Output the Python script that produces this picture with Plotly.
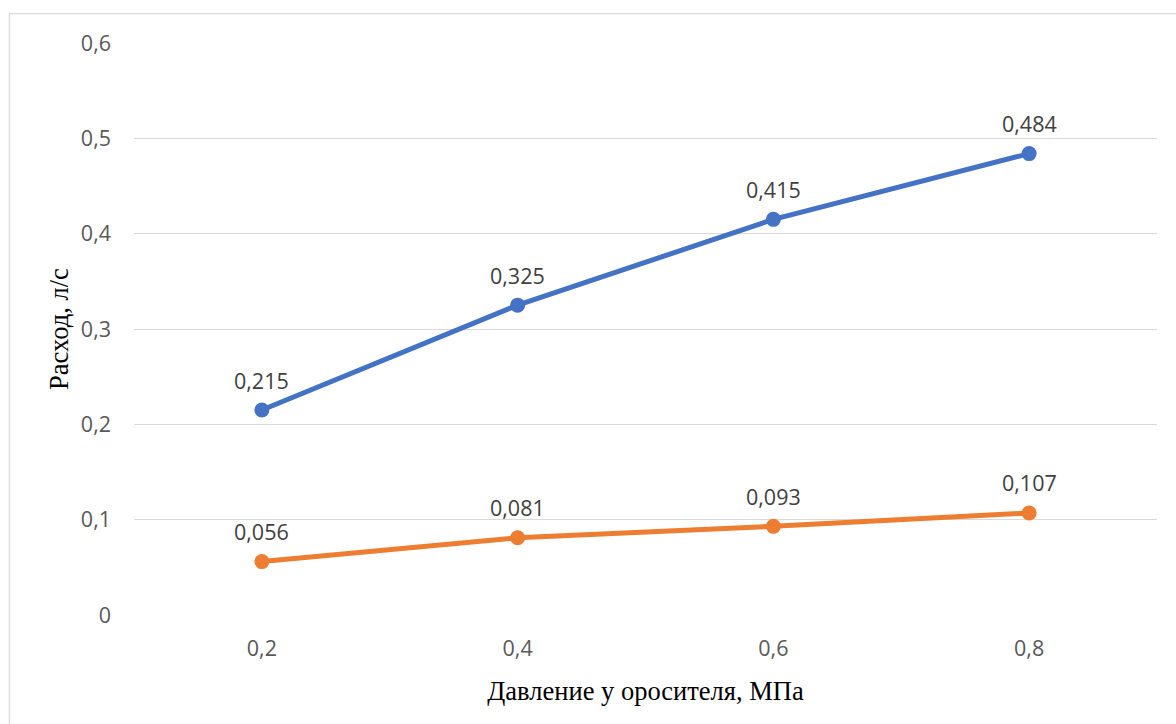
import plotly.graph_objects as go

categories = ["0,2", "0,4", "0,6", "0,8"]
series_blue = [0.215, 0.325, 0.415, 0.484]
series_orange = [0.056, 0.081, 0.093, 0.107]
y_ticks = [0, 0.1, 0.2, 0.3, 0.4, 0.5, 0.6]
y_tick_labels = ["0", "0,1", "0,2", "0,3", "0,4", "0,5", "0,6"]

def fmt(v):
    return f"{v:.3f}".replace(".", ",")

W, H = 1176, 724
L, R, T, B = 134, 19, 42.5, 108.5

fig = go.Figure()
annotations = []
for vals, col in [(series_blue, "#4472C4"), (series_orange, "#ED7D31")]:
    xs = list(range(len(categories)))
    fig.add_trace(go.Scatter(
        x=xs, y=vals,
        mode="lines+markers",
        line=dict(color=col, width=5),
        marker=dict(color=col, size=15),
        cliponaxis=False,
        showlegend=False,
        hoverinfo="skip",
    ))
    for xv, yv in zip(xs, vals):
        annotations.append(dict(
            x=xv, y=yv, xref="x", yref="y", text=fmt(yv), showarrow=False,
            yanchor="middle", xanchor="center", yshift=30,
            font=dict(family="Open Sans", size=21.5, color="#404040"),
        ))

fig.update_layout(
    width=W, height=H,
    margin=dict(l=L, r=R, t=T, b=B),
    paper_bgcolor="white", plot_bgcolor="white",
    annotations=annotations,
    xaxis=dict(
        range=[-0.5, len(categories) - 0.5],
        tickmode="array", tickvals=list(range(len(categories))), ticktext=categories,
        showgrid=False, zeroline=False, showline=False, ticks="",
        ticklabelstandoff=18,
        tickfont=dict(family="Open Sans", size=21.5, color="#595959"),
        title=dict(text="Давление у оросителя, МПа",
                   font=dict(family="Liberation Serif", size=26.5, color="#000000"),
                   standoff=20),
    ),
    yaxis=dict(
        range=[0, 0.6],
        tickmode="array", tickvals=y_ticks, ticktext=y_tick_labels,
        showgrid=True, gridcolor="#D9D9D9", gridwidth=1.3,
        zeroline=False, showline=False, ticks="", ticklabelstandoff=22,
        tickfont=dict(family="Open Sans", size=21.5, color="#595959"),
        title=dict(text="Расход, л/с",
                   font=dict(family="Liberation Serif", size=26.5, color="#000000"),
                   standoff=4),
    ),
    shapes=[dict(type="rect", xref="paper", yref="paper",
                 x0=-(L - 9.5) / (W - L - R), x1=1 + (R + 5) / (W - L - R),
                 y0=-(B + 5) / (H - T - B), y1=1 + (T - 13) / (H - T - B),
                 line=dict(color="#D9D9D9", width=1.3), layer="below")],
)

fig.write_html("out.html")
